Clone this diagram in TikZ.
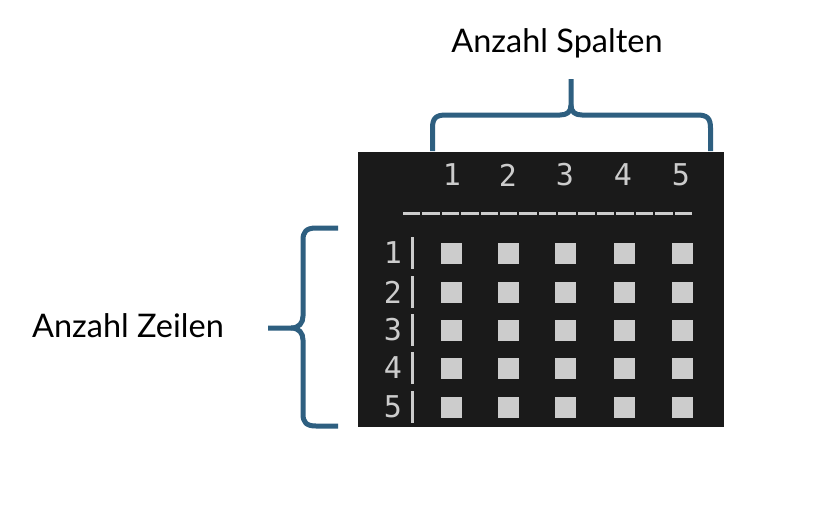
\documentclass[tikz,border=0pt]{standalone}
\usepackage{fontspec}
\setmainfont{Lato}
\newfontfamily\codefont{DejaVu Sans Mono}
\definecolor{bracec}{HTML}{2E5F80}
\definecolor{termbg}{HTML}{1A1A1A}
\definecolor{termfg}{HTML}{CCCCCC}
\begin{document}
\begin{tikzpicture}[x=1pt,y=-1pt,
  brace/.style={draw=bracec,line width=5pt,line cap=butt,line join=round},
  cell/.style={fill=termfg,minimum size=21pt,inner sep=0pt},
  digit/.style={text=termfg,font=\codefont\fontsize{30}{30}\selectfont,inner sep=0pt},
  label/.style={font=\fontsize{32.5}{32.5}\selectfont,inner sep=0pt}]
\useasboundingbox (0,0) rectangle (840,504);
\fill[white] (0,0) rectangle (840,504);
\node[fill=termbg,minimum width=366pt,minimum height=275pt,inner sep=0pt,anchor=north west] (term) at (358,152) {};
% column numbers
\foreach \i/\x in {1/452,2/508,3/565,4/623,5/681}{
  \node[digit] (c\i) at (\x,175) {\i};
}
% dashed underline
\foreach \k in {0,...,14}{
  \fill[termfg] (402+\k*19.4+1,211.5) rectangle (402+\k*19.4+18.4,215);
}
% rows
\foreach \r/\y in {1/253,2/292,3/330,4/368,5/407}{
  \node[digit] (r\r) at (393,\y) {\r};
  \fill[termfg] (411,\y-16) rectangle (414,\y+16);
  \foreach \i/\x in {1/451,2/508,3/565,4/624,5/682}{
    \node[cell] (s\r\i) at (\x,\y) {};
  }
}
% top brace
\draw[brace] (432.5,151) -- (432.5,128) .. controls (432.5,118) and (436,115) .. (446,115)
  -- (560,115) .. controls (567,115) and (571,112) .. (571,105) -- (571,79);
\draw[brace] (710.5,151) -- (710.5,128) .. controls (710.5,118) and (707,115) .. (697,115)
  -- (582,115) .. controls (575,115) and (571,112) .. (571,105);
\node[label] (spalten) at (557,43) {Anzahl Spalten};
% left brace
\draw[brace] (338,228) -- (316,228) .. controls (306,228) and (303,232) .. (303,240)
  -- (303,316) .. controls (303,323) and (299,328) .. (291,328) -- (268,328);
\draw[brace] (338,426) -- (316,426) .. controls (306,426) and (303,422) .. (303,414)
  -- (303,340) .. controls (303,333) and (299,328) .. (291,328);
\node[label] (zeilen) at (128,326) {Anzahl Zeilen};
\end{tikzpicture}
\end{document}
